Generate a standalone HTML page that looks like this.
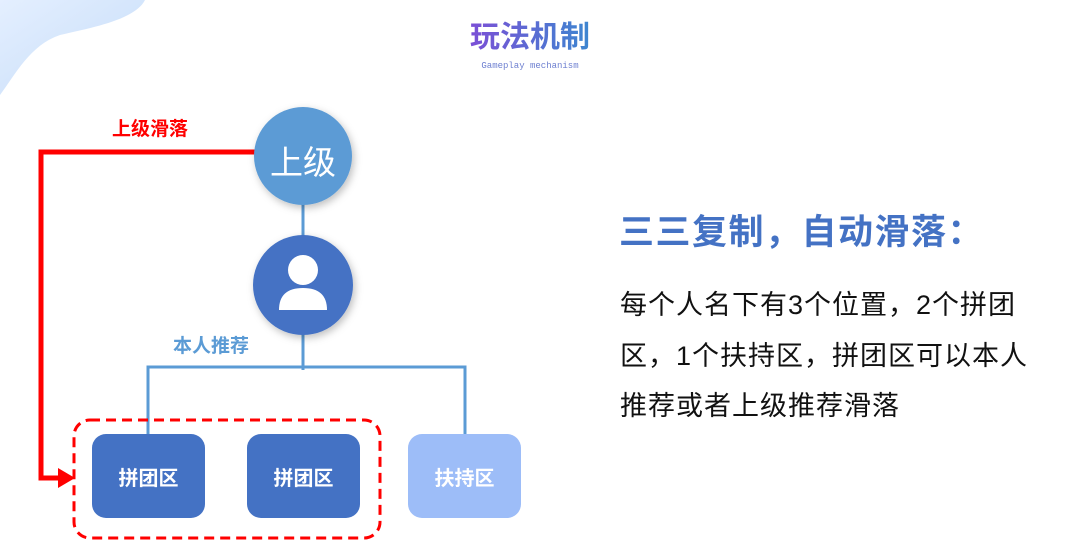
<!DOCTYPE html>
<html><head><meta charset="utf-8"><style>
body{margin:0;width:1080px;height:559px;overflow:hidden;background:#fff;font-family:"Liberation Sans","Noto Sans CJK SC",sans-serif;position:relative}
.a{position:absolute}
.box{position:absolute;top:434px;width:113px;height:84px;border-radius:14px;background:#4472c4;color:#fff;font-weight:bold;font-size:20px;display:flex;align-items:center;justify-content:center}
</style></head><body>
<svg class="a" style="left:0;top:0" width="1080" height="559">
<defs><linearGradient id="g" x1="0" y1="0" x2="1" y2="1"><stop offset="0" stop-color="#e4efff"/><stop offset="1" stop-color="#c5dcf8"/></linearGradient>
<linearGradient id="t" x1="0" x2="1"><stop offset="0" stop-color="#7b4fd6"/><stop offset="1" stop-color="#3d86d0"/></linearGradient>
<filter id="s" x="-30%" y="-30%" width="160%" height="160%"><feDropShadow dx="2" dy="3" stdDeviation="4" flood-color="#000" flood-opacity="0.25"/></filter></defs>
<path d="M0 0 H145 C135 20 90 28 60 35 C30 45 15 75 0 95 Z" fill="url(#g)"/>
<path d="M303 200 V370 M148 434 V367 H465 V434" stroke="#5b9bd5" stroke-width="3" fill="none"/>
<path d="M255 152 H41 V478 H60" stroke="#ff0000" stroke-width="5" fill="none"/>
<polygon points="58,468 75,478 58,488" fill="#ff0000"/>
<rect x="74" y="420" width="306" height="118" rx="16" fill="none" stroke="#ff0000" stroke-width="3" stroke-dasharray="10,6"/>
<circle cx="303" cy="156" r="49" fill="#5b9bd5" filter="url(#s)"/>
<circle cx="303" cy="285" r="50" fill="#4472c4" filter="url(#s)"/>
<circle cx="303" cy="270" r="15" fill="#fff"/>
<path d="M279 310 Q279 288 303 288 Q327 288 327 310 Z" fill="#fff"/>
<text x="530" y="47" text-anchor="middle" font-size="30" font-weight="bold" fill="url(#t)" font-family="Liberation Sans,Noto Sans CJK SC,sans-serif">玩法机制</text>
</svg>
<div class="a" style="left:470px;top:61px;width:120px;text-align:center;font-family:'Liberation Mono',monospace;font-size:9px;color:#6d7fd0">Gameplay mechanism</div>
<div class="a" style="left:112px;top:114px;color:#f00;font-weight:bold;font-size:19px">上级滑落</div>
<div class="a" style="left:254px;top:136px;width:98px;text-align:center;color:#fff;font-size:33px">上级</div>
<div class="a" style="left:173px;top:331px;color:#5b9bd5;font-weight:bold;font-size:19px">本人推荐</div>
<div class="box" style="left:92px">拼团区</div>
<div class="box" style="left:247px">拼团区</div>
<div class="box" style="left:408px;background:#9dbdf8">扶持区</div>
<div class="a" style="left:619px;top:204px;color:#4472c4;font-size:35px;font-weight:bold;letter-spacing:1.5px;white-space:nowrap">三三复制，自动滑落：</div>
<div class="a" style="left:620px;top:280px;width:460px;color:#111;font-size:27px;letter-spacing:1px;line-height:50.5px;white-space:nowrap">每个人名下有3个位置，2个拼团<br>区，1个扶持区，拼团区可以本人<br>推荐或者上级推荐滑落</div>
</body></html>
